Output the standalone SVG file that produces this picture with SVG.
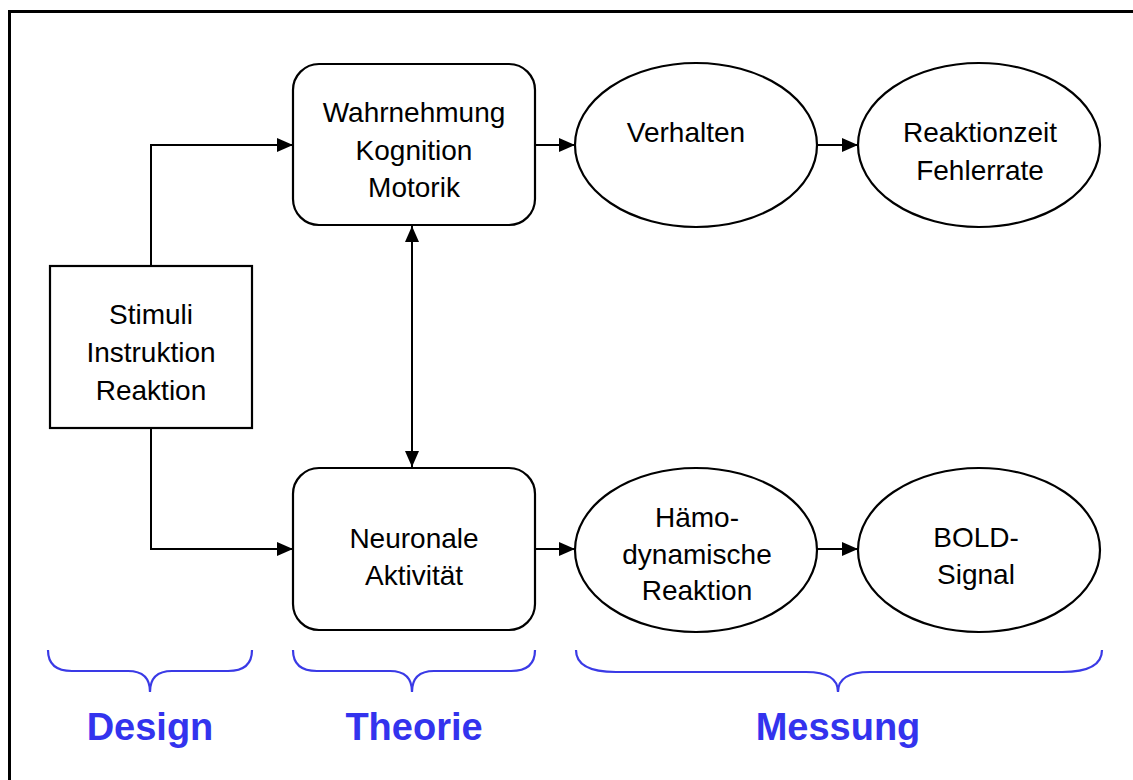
<svg xmlns="http://www.w3.org/2000/svg" width="1133" height="780" viewBox="0 0 1133 780">
<style>
.n{fill:#fff;stroke:#000;stroke-width:2.2}
.t{font-family:"Liberation Sans",Arial,sans-serif;font-size:28px;fill:#000;text-anchor:middle}
.c{fill:none;stroke:#000;stroke-width:2}
.b{fill:none;stroke:#3a3ae6;stroke-width:2.2}
.l{font-family:"Liberation Sans",Arial,sans-serif;font-size:38px;font-weight:bold;fill:#3333ee;text-anchor:middle}
</style>
<defs>
<marker id="ah" viewBox="0 0 16 14" refX="16" refY="7" markerWidth="16" markerHeight="14" markerUnits="userSpaceOnUse" orient="auto-start-reverse">
<path d="M0,0 L16,7 L0,14 Z" fill="#000"/>
</marker>
</defs>
<rect width="1133" height="780" fill="#fff"/>
<path d="M9.5,780 V11.5 H1133" fill="none" stroke="#000" stroke-width="3"/>
<g id="connectors">
<path class="c" d="M151,266 V145 H293" marker-end="url(#ah)"/>
<path class="c" d="M151,428 V549 H293" marker-end="url(#ah)"/>
<path class="c" d="M535,145 H575" marker-end="url(#ah)"/>
<path class="c" d="M817,145 H858" marker-end="url(#ah)"/>
<path class="c" d="M535,549 H575" marker-end="url(#ah)"/>
<path class="c" d="M817,549 H858" marker-end="url(#ah)"/>
<path class="c" d="M412,226 V467" marker-start="url(#ah)" marker-end="url(#ah)"/>
</g>
<g id="stimuli">
<rect class="n" x="50" y="266" width="202" height="162"/>
<text class="t" x="151" y="324">Stimuli</text>
<text class="t" x="151" y="362">Instruktion</text>
<text class="t" x="151" y="400">Reaktion</text>
</g>
<g id="wahrnehmung">
<rect class="n" x="293" y="64" width="242" height="161" rx="26"/>
<text class="t" x="414" y="122">Wahrnehmung</text>
<text class="t" x="414" y="160">Kognition</text>
<text class="t" x="414" y="197">Motorik</text>
</g>
<g id="neuronal">
<rect class="n" x="293" y="468" width="242" height="162" rx="26"/>
<text class="t" x="414" y="548">Neuronale</text>
<text class="t" x="414" y="585">Aktivität</text>
</g>
<g id="verhalten">
<ellipse class="n" cx="696" cy="145" rx="121" ry="82"/>
<text class="t" x="686" y="142">Verhalten</text>
</g>
<g id="reaktionzeit">
<ellipse class="n" cx="979" cy="145" rx="121" ry="82"/>
<text class="t" x="980" y="142">Reaktionzeit</text>
<text class="t" x="980" y="180">Fehlerrate</text>
</g>
<g id="haemo">
<ellipse class="n" cx="696" cy="550" rx="121" ry="82"/>
<text class="t" x="697" y="527">Hämo-</text>
<text class="t" x="697" y="564">dynamische</text>
<text class="t" x="697" y="600">Reaktion</text>
</g>
<g id="bold">
<ellipse class="n" cx="979" cy="550" rx="121" ry="82"/>
<text class="t" x="976" y="547">BOLD-</text>
<text class="t" x="976" y="584">Signal</text>
</g>
<g id="design">
<path class="b" d="M48,650 Q48,671 72,671 H128 Q150,671 150,692 Q150,671 172,671 H228 Q252,671 252,650"/>
<text class="l" x="150" y="740">Design</text>
</g>
<g id="theorie">
<path class="b" d="M293,650 Q293,671 317,671 H390 Q412,671 412,692 Q412,671 434,671 H511 Q535,671 535,650"/>
<text class="l" x="414" y="740">Theorie</text>
</g>
<g id="messung">
<path class="b" d="M576,650 Q576,672 616,672 H806 Q838,672 838,692 Q838,672 870,672 H1062 Q1102,672 1102,650"/>
<text class="l" x="838" y="740">Messung</text>
</g>
</svg>
